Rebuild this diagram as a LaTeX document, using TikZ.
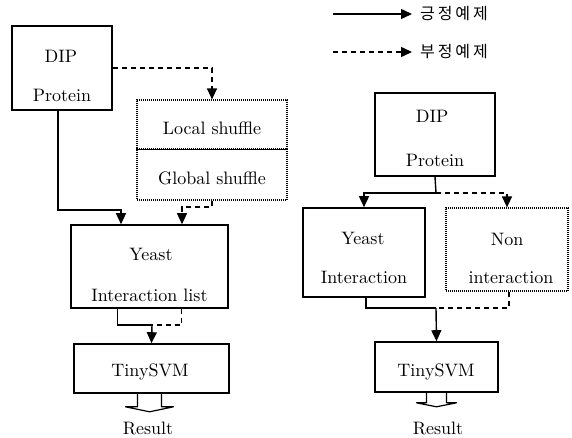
\documentclass[tikz,border=0pt]{standalone}
\usepackage{fontspec}
\setmainfont{lmroman10-regular}[Extension=.otf]
\newfontfamily\kor{Noto Sans CJK KR}[LetterSpace=18]
\usetikzlibrary{arrows.meta,calc}

\tikzset{
  every node/.style={font=\fontsize{18}{22}\selectfont},
  box/.style={draw, line width=1.6pt, inner sep=0pt},
  dotbox/.style={draw, line width=1.2pt, dash pattern=on 1pt off 1pt, inner sep=0pt},
  txt/.style={anchor=base, inner sep=0pt},
  legend/.style={anchor=west, inner sep=0pt, font=\kor\fontsize{16}{18}\selectfont},
  link/.style={line width=1.4pt},
  dashlink/.style={link, dash pattern=on 5pt off 4pt},
  posarrow/.style={link, -{Triangle[width=10pt,length=11pt]}},
  negarrow/.style={dashlink, -{Triangle[width=10pt,length=11pt]}},
  outarrow/.style={line width=1.2pt, line join=round}
}

\begin{document}
\begin{tikzpicture}[x=1pt, y=-1pt]
  \useasboundingbox (0,0) rectangle (572,438);

  % legend
  \node[legend] (posText) at (420,14) {긍정예제};
  \node[legend] (negText) at (420,52) {부정예제};
  \coordinate (posStart) at (333,14);
  \coordinate (negStart) at (333,52);
  \draw[posarrow, shorten >=8pt] (posStart) -- (posText.west);
  \draw[negarrow, shorten >=8pt] (negStart) -- (negText.west);

  % left flow
  \node[box, minimum width=100, minimum height=84] (dipL) at (62,68) {};
  \node[txt] (dipLa) at (61,63) {DIP};
  \node[txt] (dipLb) at (62,102) {Protein};
  \node[dotbox, minimum width=150, minimum height=49] (local) at (212,124.5) {};
  \node[dotbox, minimum width=150, minimum height=51] (global) at (212,174.5) {};
  \draw[line width=1.2pt] (local.south west) -- (local.south east);
  \node[txt] (localT) at (212,135) {Local shuffle};
  \node[txt] (globalT) at (212,185) {Global shuffle};
  \node[box, minimum width=157, minimum height=83] (yeastL) at (149.5,266.5) {};
  \node[txt] (yeastLa) at (151,260) {Yeast};
  \node[txt] (yeastLb) at (149.5,301) {Interaction list};
  \node[box, minimum width=155, minimum height=49] (tinyL) at (151.5,368.5) {};
  \node[txt] (tinyLT) at (150,376) {TinySVM};
  \node[txt] (resultL) at (148,434) {Result};

  \coordinate (jL) at (121,210);
  \coordinate (kL) at (182,207);
  \coordinate (mL) at (152,325);
  \draw[posarrow] ($(dipL.south)+(-4,0)$) |- (jL) -- (jL |- yeastL.north);
  \draw[negarrow] (dipL.east) -| (local.north);
  \draw[negarrow] (global.south) |- (kL) -- (kL |- yeastL.north);
  \draw[link] ($(yeastL.south)+(-32,0)$) |- (mL);
  \draw[dashlink] ($(yeastL.south)+(32,0)$) |- (mL);
  \draw[posarrow] (mL) -- (tinyL.north);
  \draw[outarrow] ($(tinyL.south)+(-14,0)$) -- ++(0,13) -- ++(-12,0)
    -- ($(tinyL.south)+(-2,18)$) -- ($(tinyL.south)+(22,13)$) -- ++(-12,0) -- ++(0,-13);

  % right flow
  \node[box, minimum width=120, minimum height=83] (dipR) at (435,134.5) {};
  \node[txt] (dipRa) at (432,123) {DIP};
  \node[txt] (dipRb) at (435,167) {Protein};
  \node[box, minimum width=122, minimum height=89] (yeastR) at (364,252.5) {};
  \node[txt] (yeastRa) at (363,244) {Yeast};
  \node[txt] (yeastRb) at (364,283) {Interaction};
  \node[dotbox, minimum width=122, minimum height=83] (nonR) at (507,249.5) {};
  \node[txt] (nonRa) at (507,245) {Non};
  \node[txt] (nonRb) at (511,283) {interaction};
  \node[box, minimum width=123, minimum height=50] (tinyR) at (436.5,367) {};
  \node[txt] (tinyRT) at (436,376) {TinySVM};
  \node[txt] (resultR) at (438,434) {Result};

  \coordinate (sR) at (436,193);
  \coordinate (mR) at (436,308);
  \draw[link] (dipR.south) -- (sR);
  \draw[posarrow] (sR) -| (yeastR.north);
  \draw[negarrow] (sR) -| (nonR.north);
  \draw[link] ($(yeastR.south)+(2,0)$) |- (mR);
  \draw[dashlink] ($(nonR.south)+(2,0)$) |- (mR);
  \draw[posarrow] (mR) -- (tinyR.north);
  \draw[outarrow] ($(tinyR.south)+(-10,0)$) -- ++(0,10) -- ++(-10,0)
    -- ($(tinyR.south)+(0,14)$) -- ($(tinyR.south)+(20,10)$) -- ++(-10,0) -- ++(0,-10);
\end{tikzpicture}
\end{document}
